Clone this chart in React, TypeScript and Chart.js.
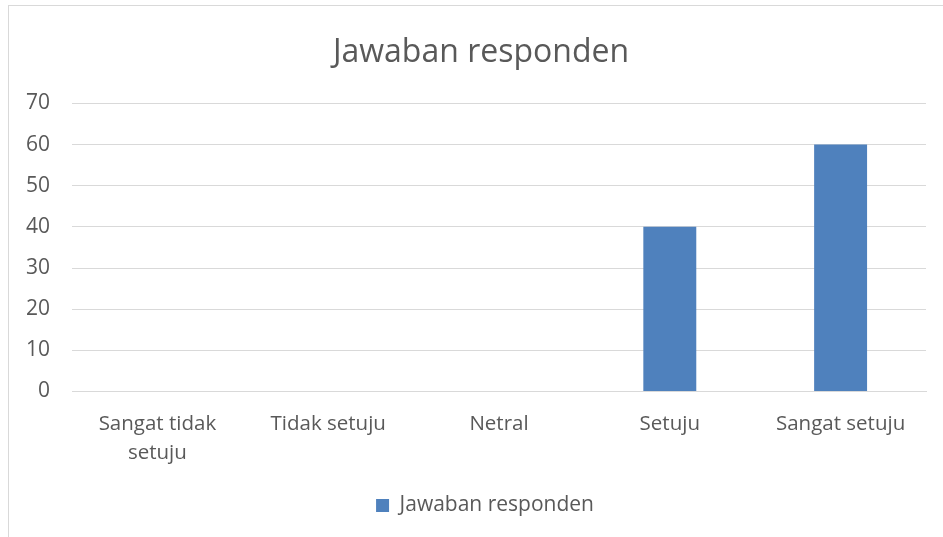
import React, { useEffect, useRef } from "react";
import { Chart, registerables } from "chart.js";

Chart.register(...registerables);

const categories: (string | string[])[] = [
  ["Sangat tidak", "setuju"],
  "Tidak setuju",
  "Netral",
  "Setuju",
  "Sangat setuju",
];
const seriesName = "Jawaban responden";
const seriesValues = [0, 0, 0, 40, 60];
const yMin = 0;
const yMax = 70;
const yStep = 10;

const FONT = "'Open Sans', 'DejaVu Sans', sans-serif";
const TEXT = "#595959";

// shifts title & legend so they are centred on the framed chart box rather than the canvas
const centerShift = {
  id: "centerShift",
  afterLayout(chart: any) {
    if (chart.titleBlock) chart.titleBlock.left = 36;
    if (chart.legend) chart.legend.left = 44;
  },
};

export default function App() {
  const ref = useRef<HTMLCanvasElement | null>(null);

  useEffect(() => {
    document.body.style.margin = "0";
    document.body.style.overflow = "hidden";
    const canvas = ref.current!;
    const chart = new Chart(canvas, {
      type: "bar",
      data: {
        labels: categories,
        datasets: [
          {
            label: seriesName,
            data: seriesValues,
            backgroundColor: "#4F81BD",
            borderWidth: 0,
            categoryPercentage: 0.62,
            barPercentage: 0.5,
          },
        ],
      },
      plugins: [centerShift],
      options: {
        responsive: false,
        animation: false,
        layout: { padding: { left: 0, right: 17, top: 0, bottom: 11 } },
        plugins: {
          title: {
            display: true,
            text: "Jawaban responden",
            color: TEXT,
            font: { family: FONT, size: 32, weight: "normal", lineHeight: 1.2 },
            padding: { top: 34, bottom: 31 },
          },
          legend: {
            display: true,
            position: "bottom",
            labels: {
              color: TEXT,
              font: { family: FONT, size: 21 },
              boxWidth: 13,
              boxHeight: 13,
              padding: 10,
            },
          },
          tooltip: { enabled: false },
        },
        scales: {
          x: {
            grid: { display: false },
            border: { display: true, color: "#d9d9d9" },
            ticks: {
              color: TEXT,
              font: { family: FONT, size: 20.5, lineHeight: 1.41 },
              padding: 10,
              maxRotation: 0,
              autoSkip: false,
            },
            afterFit: (s: any) => {
              s.height = 93.5;
            },
          },
          y: {
            min: yMin,
            max: yMax,
            ticks: {
              stepSize: yStep,
              color: TEXT,
              font: { family: FONT, size: 21 },
              padding: 22,
            },
            grid: { color: "#d9d9d9", drawTicks: false, lineWidth: 1 },
            border: { display: false },
            afterFit: (s: any) => {
              s.width = 72;
            },
          },
        },
      },
    });
    return () => chart.destroy();
  }, []);

  return (
    <div>
      <div
        style={{
          position: "fixed",
          left: 8,
          top: 5,
          width: 960,
          height: 560,
          border: "1px solid #d9d9d9",
          boxSizing: "border-box",
          background: "#fff",
        }}
      />
      <canvas
        ref={ref}
        width={943}
        height={537}
        style={{ position: "fixed", left: 0, top: 0, width: 943, height: 537 }}
      />
    </div>
  );
}
